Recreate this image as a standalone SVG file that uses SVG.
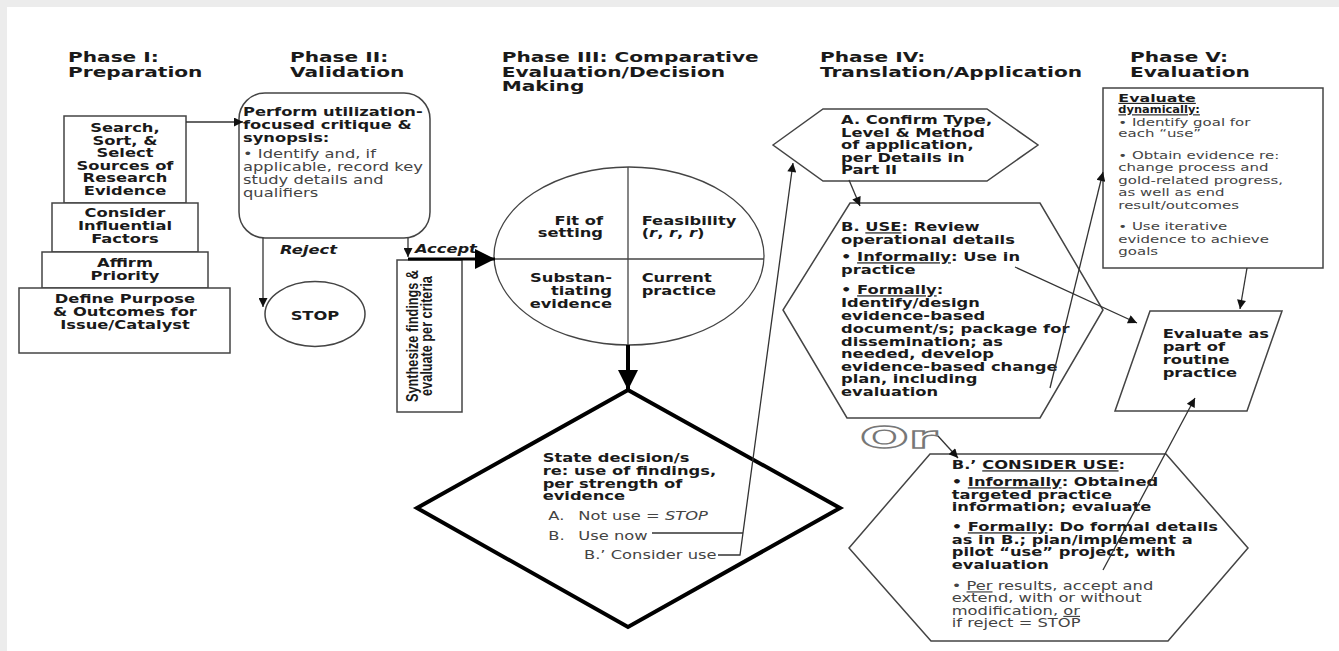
<svg xmlns="http://www.w3.org/2000/svg" width="1339" height="651" viewBox="0 0 1339 651">
<defs>
<style>
.t{font-family:"DejaVu Sans",Verdana,sans-serif;font-size:12px}
.h{font-weight:bold;font-size:14.8px;fill:#1a1a1a}
.b{font-weight:bold;fill:#1a1a1a}
.r{fill:#444}
.c{text-anchor:middle}
.e{text-anchor:end}
.u{text-decoration:underline}
.i{font-style:italic}
.s{font-size:11px}
.ln{fill:none;stroke:#333;stroke-width:1.3}
.sh{fill:#fff;stroke:#444;stroke-width:1.5}
.syn{font-family:"Liberation Sans",Arial,sans-serif;font-weight:bold;font-size:12.7px;fill:#1a1a1a;text-anchor:middle}
.or{font-family:"DejaVu Sans",Verdana,sans-serif;font-size:30px;font-weight:bold;fill:#fff;stroke:#777;stroke-width:1.4}
</style>
<marker id="ah" viewBox="0 0 10 10" refX="10" refY="5" markerWidth="11" markerHeight="9" markerUnits="userSpaceOnUse" orient="auto"><path d="M0,0 L10,5 L0,10 z" fill="#111"/></marker>
<marker id="ahb" viewBox="0 0 10 10" refX="10" refY="5" markerWidth="24" markerHeight="20" markerUnits="userSpaceOnUse" orient="auto"><path d="M0,0 L10,5 L0,10 z" fill="#000"/></marker>
</defs>
<rect x="0" y="0" width="1339" height="651" fill="#ececec"/>
<rect x="7" y="7" width="1332" height="644" fill="#fff"/>

<g id="headings" class="t h" transform="scale(1.36 1)">
<text x="50" y="62.5">Phase I:</text><text x="50" y="77">Preparation</text>
<text x="213.2" y="62.5">Phase II:</text><text x="213.2" y="77">Validation</text>
<text x="368.9" y="62.5">Phase III: Comparative</text><text x="368.9" y="77">Evaluation/Decision</text><text x="368.9" y="91.5">Making</text>
<text x="602.9" y="62.5">Phase IV:</text><text x="602.9" y="77">Translation/Application</text>
<text x="830.9" y="62.5">Phase V:</text><text x="830.9" y="77">Evaluation</text>
</g>

<g id="phase1">
<rect class="sh" x="64" y="116" width="122" height="87"/>
<rect class="sh" x="52" y="203" width="146" height="49"/>
<rect class="sh" x="42" y="252" width="166" height="36"/>
<rect class="sh" x="19" y="288" width="211" height="65" stroke-width="2"/>
<g class="t b c" transform="scale(1.36 1)">
<text x="91.9" y="132.5">Search,</text><text x="91.9" y="145">Sort, &amp;</text><text x="91.9" y="157.5">Select</text><text x="91.9" y="170">Sources of</text><text x="91.9" y="182.5">Research</text><text x="91.9" y="195">Evidence</text>
<text x="91.9" y="217.5">Consider</text><text x="91.9" y="230">Influential</text><text x="91.9" y="243">Factors</text>
<text x="91.9" y="267.5">Affirm</text><text x="91.9" y="280.5">Priority</text>
<text x="91.9" y="303.5">Define Purpose</text><text x="91.9" y="316.5">&amp; Outcomes for</text><text x="91.9" y="329.5">Issue/Catalyst</text>
</g>
</g>

<g id="critique">
<rect class="sh" x="239" y="93" width="191" height="145" rx="26" ry="26"/>
<g class="t" transform="scale(1.36 1)">
<text class="b" x="178.7" y="116.5">Perform utilization-</text>
<text class="b" x="178.7" y="129.5">focused critique &amp;</text>
<text class="b" x="178.7" y="142">synopsis:</text>
<text class="r" x="178.7" y="158.5">• Identify and, if</text>
<text class="r" x="178.7" y="171.5">applicable, record key</text>
<text class="r" x="178.7" y="184.5">study details and</text>
<text class="r" x="178.7" y="197">qualifiers</text>
</g>
</g>

<g id="stop">
<ellipse class="sh" cx="315" cy="314" rx="50" ry="32.5" stroke-width="1.3"/>
<text class="t b c" transform="scale(1.36 1)" x="231.6" y="320">STOP</text>
</g>

<g id="synthesize">
<rect class="sh" x="397" y="260" width="65" height="152" stroke-width="1.3"/>
<text class="syn" transform="translate(418 336) scale(1.31 1) rotate(-90)">Synthesize findings &amp;</text>
<text class="syn" transform="translate(432 336) scale(1.31 1) rotate(-90)">evaluate per criteria</text>
</g>

<g id="criteria">
<ellipse cx="629" cy="256" rx="135" ry="89" fill="#fff" stroke="#444" stroke-width="1.3"/>
<line x1="628" y1="167" x2="628" y2="345" stroke="#444" stroke-width="1.3"/>
<line x1="494" y1="259" x2="764" y2="259" stroke="#444" stroke-width="1.3"/>
<g class="t b" transform="scale(1.36 1)">
<text class="e" x="443.4" y="225">Fit of</text><text class="e" x="443.4" y="237">setting</text>
<text x="471.8" y="225">Feasibility</text><text x="471.8" y="237">(<tspan class="i">r</tspan>, <tspan class="i">r</tspan>, <tspan class="i">r</tspan>)</text>
<text class="e" x="450" y="282">Substan-</text><text class="e" x="450" y="295">tiating</text><text class="e" x="450" y="308">evidence</text>
<text x="471.8" y="282">Current</text><text x="471.8" y="295">practice</text>
</g>
</g>

<g id="decision">
<polygon points="628,390 840,508 628,627 417,508" fill="#fff" stroke="#000" stroke-width="4" stroke-linejoin="miter"/>
<g class="t" transform="scale(1.36 1)">
<text class="b" x="399" y="462.5">State decision/s</text>
<text class="b" x="399" y="475.5">re: use of findings,</text>
<text class="b" x="399" y="488">per strength of</text>
<text class="b" x="399" y="500.5">evidence</text>
<text class="r" x="403.2" y="520.5">A.</text><text class="r" x="425.2" y="520.5">Not use = <tspan class="i">STOP</tspan></text>
<text class="r" x="403.2" y="540">B.</text><text class="r" x="425.2" y="540">Use now</text>
<text class="r" x="429.4" y="559.5">B.’ Consider use</text>
</g>
</g>

<g id="hexA">
<polygon class="sh" points="773,145 823,109 987,109 1038,145 987,181 823,181" stroke-width="1.3"/>
<g class="t b" transform="scale(1.36 1)">
<text x="618.4" y="124.5">A. Confirm Type,</text><text x="618.4" y="137">Level &amp; Method</text><text x="618.4" y="149.5">of application,</text><text x="618.4" y="162">per Details in</text><text x="618.4" y="174">Part II</text>
</g>
</g>

<g id="hexB">
<polygon class="sh" points="850,203 1040,203 1103,310 1040,418 847,418 783,310" stroke-width="1.3"/>
<g class="t b" transform="scale(1.36 1)">
<text x="618.4" y="231.5">B. <tspan class="u">USE</tspan>: Review</text>
<text x="618.4" y="244">operational details</text>
<text x="618.4" y="261.5">• <tspan class="u">Informally</tspan>: Use in</text>
<text x="618.4" y="274.5">practice</text>
<text x="618.4" y="294.5">• <tspan class="u">Formally</tspan>:</text>
<text x="618.4" y="307">Identify/design</text>
<text x="618.4" y="320">evidence-based</text>
<text x="618.4" y="333">document/s; package for</text>
<text x="618.4" y="346">dissemination; as</text>
<text x="618.4" y="358.5">needed, develop</text>
<text x="618.4" y="371">evidence-based change</text>
<text x="618.4" y="383.5">plan, including</text>
<text x="618.4" y="396">evaluation</text>
</g>
</g>

<g id="or">
<text class="or" transform="scale(1.36 1)" x="632.4" y="448" textLength="56.6" lengthAdjust="spacingAndGlyphs">Or</text>
</g>

<g id="hexBprime">
<polygon class="sh" points="930,454 1166,454 1248,548 1168,641 931,641 849,548" stroke-width="1.3"/>
<g class="t" transform="scale(1.36 1)">
<text class="b" x="699.8" y="469.5">B.’  <tspan class="u">CONSIDER USE</tspan>:</text>
<text class="b" x="699.8" y="486.5">• <tspan class="u">Informally</tspan>: Obtained</text>
<text class="b" x="699.8" y="499">targeted practice</text>
<text class="b" x="699.8" y="511.5">information; evaluate</text>
<text class="b" x="699.8" y="531.5">• <tspan class="u">Formally</tspan>: Do formal details</text>
<text class="b" x="699.8" y="544">as in B.; plan/implement a</text>
<text class="b" x="699.8" y="556.5">pilot “use” project, with</text>
<text class="b" x="699.8" y="569">evaluation</text>
<text class="r" x="699.8" y="590.5">• <tspan class="u">Per</tspan> results, accept and</text>
<text class="r" x="699.8" y="602.5">extend, with or without</text>
<text class="r" x="699.8" y="615">modification, <tspan class="u">or</tspan></text>
<text class="r" x="699.8" y="627">if reject = STOP</text>
</g>
</g>

<g id="evalDynamic">
<rect class="sh" x="1103" y="88" width="220" height="180" stroke-width="2"/>
<g class="t s" transform="scale(1.36 1)">
<text class="b u" x="822.3" y="102" textLength="57" lengthAdjust="spacingAndGlyphs">Evaluate</text>
<text class="b u" x="822.3" y="113.5" textLength="60" lengthAdjust="spacingAndGlyphs">dynamically:</text>
<text class="r" x="822.3" y="126">• Identify goal for</text>
<text class="r" x="822.3" y="137.5">each “use”</text>
<text class="r" x="822.3" y="159">• Obtain evidence  re:</text>
<text class="r" x="822.3" y="171">change process and</text>
<text class="r" x="822.3" y="184">gold-related progress,</text>
<text class="r" x="822.3" y="196.5">as well as end</text>
<text class="r" x="822.3" y="209">result/outcomes</text>
<text class="r" x="822.3" y="230">• Use iterative</text>
<text class="r" x="822.3" y="243">evidence to achieve</text>
<text class="r" x="822.3" y="255">goals</text>
</g>
</g>

<g id="evalRoutine">
<polygon class="sh" points="1150,311 1282,311 1247,411 1115,411" stroke-width="1.3"/>
<g class="t b" transform="scale(1.36 1)">
<text x="854.9" y="338.5">Evaluate as</text><text x="854.9" y="351.5">part of</text><text x="854.9" y="364.5">routine</text><text x="854.9" y="377.5">practice</text>
</g>
</g>

<g id="labels" class="t b i" transform="scale(1.36 1)">
<text x="205.9" y="254">Reject</text>
<text x="305.1" y="253">Accept</text>
</g>

<g id="connectors">
<line class="ln" x1="186" y1="122" x2="243" y2="122" marker-end="url(#ah)"/>
<line class="ln" x1="263" y1="238" x2="263" y2="307" marker-end="url(#ah)"/>
<line class="ln" x1="408" y1="238" x2="408" y2="257" marker-end="url(#ah)"/>
<line x1="408" y1="259" x2="495" y2="259" stroke="#000" stroke-width="3" marker-end="url(#ahb)"/>
<line x1="628" y1="345" x2="628" y2="390" stroke="#000" stroke-width="4" marker-end="url(#ahb)"/>
<polyline class="ln" points="652,533 743,533"/>
<polyline class="ln" points="718,555 740,555 793,163" marker-end="url(#ah)"/>
<line class="ln" x1="849" y1="180" x2="860" y2="206" marker-end="url(#ah)"/>
<line class="ln" x1="938" y1="436" x2="958" y2="458" marker-end="url(#ah)"/>
<line class="ln" x1="1247" y1="268" x2="1240" y2="309" marker-end="url(#ah)"/>
<line class="ln" x1="1015" y1="267" x2="1137" y2="323" marker-end="url(#ah)"/>
<line class="ln" x1="1103" y1="570" x2="1195" y2="398" marker-end="url(#ah)"/>
<line class="ln" x1="1050" y1="388" x2="1103" y2="172" marker-end="url(#ah)"/>
</g>
</svg>
